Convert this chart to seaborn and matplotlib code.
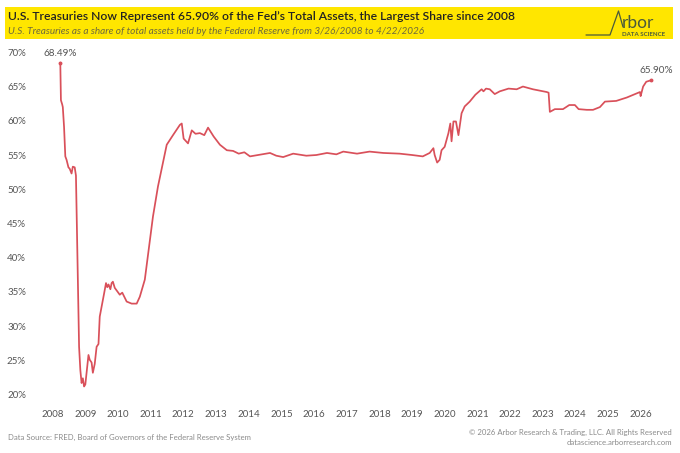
import pandas as pd
import matplotlib
matplotlib.use("Agg")
import matplotlib.pyplot as plt
import matplotlib.dates as mdates
from matplotlib.lines import Line2D
from matplotlib.patches import Rectangle
import seaborn as sns

# weekly share of Treasuries in Fed total assets
dates = [
    "2008-03-26", "2008-04-02", "2008-04-16", "2008-04-23", "2008-05-07", "2008-05-21",
    "2008-06-04", "2008-06-25", "2008-07-09", "2008-07-30", "2008-08-13", "2008-09-03",
    "2008-09-17", "2008-10-22", "2008-11-05", "2008-11-19", "2008-12-03", "2008-12-17",
    "2008-12-31", "2009-02-04", "2009-02-18", "2009-03-11", "2009-03-25", "2009-04-15",
    "2009-05-06", "2009-05-27", "2009-06-10", "2009-07-08", "2009-07-29", "2009-08-19",
    "2009-09-02", "2009-09-16", "2009-10-07", "2009-10-21", "2009-11-04", "2009-11-25",
    "2010-01-20", "2010-02-17", "2010-04-07", "2010-06-02", "2010-07-28", "2010-09-01",
    "2010-10-27", "2010-12-08", "2011-01-26", "2011-03-23", "2011-05-25", "2011-06-29",
    "2011-09-07", "2011-11-23", "2011-12-14", "2012-01-04", "2012-02-22", "2012-04-04",
    "2012-05-16", "2012-07-04", "2012-08-22", "2012-10-03", "2012-12-05", "2013-02-13",
    "2013-05-01", "2013-07-10", "2013-09-11", "2013-11-13", "2014-01-15", "2014-04-16",
    "2014-08-27", "2014-11-05", "2015-01-21", "2015-05-13", "2015-10-07", "2016-01-27",
    "2016-05-25", "2016-09-07", "2016-11-23", "2017-04-26", "2017-09-13", "2018-02-14",
    "2018-08-15", "2019-01-02", "2019-05-01", "2019-07-17", "2019-08-28", "2019-09-11",
    "2019-10-09", "2019-11-06", "2019-11-27", "2020-01-01", "2020-02-12", "2020-03-04",
    "2020-03-18", "2020-04-08", "2020-05-06", "2020-06-03", "2020-07-08", "2020-08-12",
    "2020-10-07", "2020-12-09", "2021-01-13", "2021-02-17", "2021-03-10", "2021-04-07",
    "2021-05-19", "2021-07-14", "2021-09-08", "2021-12-15", "2022-03-16", "2022-05-25",
    "2022-09-14", "2023-02-15", "2023-03-08", "2023-03-22", "2023-05-17", "2023-08-16",
    "2023-10-25", "2023-12-27", "2024-02-07", "2024-05-08", "2024-07-17", "2024-10-02",
    "2024-11-27", "2025-04-02", "2025-07-30", "2025-11-19", "2025-12-24", "2025-12-31",
    "2026-01-28", "2026-03-04", "2026-04-22",
]
share = [
    68.49, 63.0, 62.4, 62.0, 59.1, 54.8,
    54.3, 53.2, 53.0, 52.3, 53.3, 53.2,
    52.0, 27.0, 23.6, 21.7, 22.4, 21.2,
    21.5, 25.8, 25.1, 24.7, 23.2, 24.5,
    27.0, 27.4, 31.4, 33.3, 34.8, 36.3,
    35.7, 36.1, 35.4, 36.3, 36.5, 35.6,
    34.6, 34.9, 33.6, 33.3, 33.3, 34.3,
    36.8, 41.1, 46.0, 50.4, 54.3, 56.5,
    57.9, 59.4, 59.6, 57.4, 56.7, 58.6,
    58.1, 58.2, 57.9, 59.0, 57.7, 56.5,
    55.7, 55.6, 55.2, 55.4, 54.8, 55.0,
    55.3, 54.9, 54.7, 55.2, 54.9, 55.0,
    55.3, 55.1, 55.5, 55.2, 55.5, 55.3,
    55.2, 55.0, 54.8, 55.3, 56.0, 55.0,
    53.9, 54.3, 55.7, 56.2, 58.2, 59.6,
    57.0, 59.9, 59.9, 57.9, 61.1, 62.1,
    62.8, 63.8, 64.2, 64.6, 64.3, 64.7,
    64.6, 63.9, 64.3, 64.7, 64.6, 65.0,
    64.6, 64.2, 64.1, 61.3, 61.7, 61.7,
    62.3, 62.3, 61.7, 61.6, 61.6, 62.0,
    62.8, 62.9, 63.4, 64.0, 64.2, 63.6,
    65.0, 65.7, 65.90,
]
year_ticks = list(range(2008, 2027))
pct_ticks = list(range(20, 75, 5))

df = pd.DataFrame({"date": pd.to_datetime(dates), "share": share})

sns.set_theme(style="white")
plt.rcParams["font.family"] = ["Lato", "DejaVu Sans"]

W, H = 680, 453
fig = plt.figure(figsize=(W / 100, H / 100), dpi=100)
fig.patch.set_facecolor("white")

# axes placed so 20%..70% and the years line up with the reference
ax = fig.add_axes([44 / W, 1 - 394.7 / H, (672 - 44) / W, (394.7 - 52.3) / H])
sns.lineplot(data=df, x="date", y="share", ax=ax, color="#d9505a", linewidth=1.25)

ax.set_ylim(20, 70)
x0 = pd.Timestamp("2008-01-01") - pd.Timedelta(days=365.25 * (52.7 - 44) / 32.67)
x1 = pd.Timestamp("2026-01-01") + pd.Timedelta(days=365.25 * (672 - 640.7) / 32.67)
ax.set_xlim(x0, x1)
ax.set_yticks(pct_ticks)
ax.set_yticklabels([f"{v}%" for v in pct_ticks])
ax.set_xticks([pd.Timestamp(f"{y}-01-01") for y in year_ticks])
ax.xaxis.set_major_formatter(mdates.DateFormatter("%Y"))
ax.set_xlabel("")
ax.set_ylabel("")
ax.tick_params(axis="both", length=0, labelsize=7, colors="#555555")
ax.tick_params(axis="y", pad=13)
ax.tick_params(axis="x", pad=11)
sns.despine(ax=ax, left=True, bottom=True)
ax.set_facecolor("white")

# first / last value labels
first, last = df.iloc[0], df.iloc[-1]
ax.plot(first["date"], first["share"], "o", ms=1.8, color="#d9505a")
ax.plot(last["date"], last["share"], "o", ms=1.8, color="#d9505a")
ax.annotate(f"{first['share']:.2f}%", (first["date"], first["share"]), xytext=(0, 3),
            textcoords="offset points", ha="center", va="bottom", fontsize=7.2,
            color="#555555", annotation_clip=False)
ax.annotate(f"{last['share']:.2f}%", (last["date"], last["share"]), xytext=(4, 4),
            textcoords="offset points", ha="center", va="bottom", fontsize=7.2,
            color="#555555", annotation_clip=False)

# yellow header band
fig.add_artist(Rectangle((5 / W, 1 - 39 / H), (673 - 5) / W, 32 / H,
                         transform=fig.transFigure, facecolor="#ffe600", edgecolor="none"))
fig.text(8 / W, 1 - 17 / H, "U.S. Treasuries Now Represent 65.90% of the Fed’s Total Assets, the Largest Share since 2008",
         fontsize=8.75, fontweight="semibold", color="#222222", va="center", ha="left")
fig.text(8 / W, 1 - 31 / H, "U.S. Treasuries as a share of total assets held by the Federal Reserve from 3/26/2008 to 4/22/2026",
         fontsize=7.2, style="italic", color="#6e6a3c", va="center", ha="left")

# Arbor logo
lx = [586 / W, 610 / W, 618.5 / W, 623 / W]
ly = [1 - 35 / H, 1 - 35 / H, 1 - 11 / H, 1 - 27 / H]
fig.add_artist(Line2D(lx, ly, transform=fig.transFigure, color="#4a5a3c", linewidth=0.9))
fig.text(622 / W, 1 - 23 / H, "rbor", fontsize=12.5, color="#4a5a3c", va="center", ha="left")
fig.text(644 / W, 1 - 34 / H, "DATA SCIENCE", fontsize=4.4, color="#4a5a3c", va="center",
         ha="center", fontweight="bold")

# footer
fig.text(8 / W, 1 - 437 / H, "Data Source: FRED, Board of Governors of the Federal Reserve System",
         fontsize=5.6, color="#8a8a8a", va="center", ha="left")
fig.text(672 / W, 1 - 432 / H, "© 2026 Arbor Research & Trading, LLC. All Rights Reserved",
         fontsize=5.6, color="#8a8a8a", va="center", ha="right")
fig.text(672 / W, 1 - 442.5 / H, "datascience.arborresearch.com",
         fontsize=5.6, color="#8a8a8a", va="center", ha="right")

fig.savefig("out.png", dpi=100, facecolor="white")
